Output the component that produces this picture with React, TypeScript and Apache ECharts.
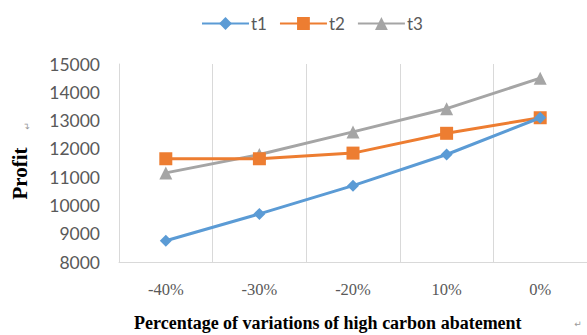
import React, { useEffect, useRef } from "react";
import * as echarts from "echarts";

const categories = ["-40%", "-30%", "-20%", "10%", "0%"];
const seriesNames = ["t1", "t2", "t3"];
const t1Values = [8750, 9700, 10700, 11800, 13100];
const t2Values = [11650, 11650, 11850, 12550, 13100];
const t3Values = [11150, 11800, 12600, 13420, 14500];
const yTicks = { min: 8000, max: 15000, step: 1000 };

const colors = ["#5B9BD5", "#ED7D31", "#A5A5A5"];
const symbols = ["diamond", "rect", "triangle"];
const symbolSizes = [12, 13, 13];

export default function App() {
  const ref = useRef<HTMLDivElement>(null);

  useEffect(() => {
    if (!ref.current) return;
    const chart = echarts.init(ref.current, undefined, { renderer: "svg" });
    const values = [t1Values, t2Values, t3Values];

    chart.setOption({
      animation: false,
      backgroundColor: "#ffffff",
      legend: {
        left: 196,
        top: 10,
        itemWidth: 47,
        itemHeight: 16,
        itemGap: 12,
        textStyle: { fontFamily: "Lato", fontSize: 17, color: "#595959", padding: [0, 0, 0, -3] },
        data: seriesNames,
      },
      grid: { left: 119, top: 64, width: 479, height: 198, containLabel: false },
      xAxis: {
        type: "category",
        data: categories,
        boundaryGap: true,
        axisLine: { show: true, lineStyle: { color: "#d9d9d9", width: 1 } },
        axisTick: { show: false },
        splitLine: { show: true, lineStyle: { color: "#d9d9d9", width: 1 } },
        axisLabel: {
          margin: 19,
          fontFamily: "Liberation Serif",
          fontSize: 16.5,
          color: "#595959",
        },
      },
      yAxis: {
        type: "value",
        min: yTicks.min,
        max: yTicks.max,
        interval: yTicks.step,
        axisLine: { show: true, lineStyle: { color: "#d9d9d9", width: 1 } },
        axisTick: { show: false },
        splitLine: { show: false },
        axisLabel: {
          margin: 19,
          fontFamily: "Lato",
          fontSize: 17.5,
          color: "#595959",
          formatter: (v: number) => String(v),
        },
      },
      series: seriesNames.map((name, i) => ({
        name,
        type: "line",
        data: values[i],
        symbol: symbols[i],
        symbolSize: symbolSizes[i],
        lineStyle: { color: colors[i], width: 3 },
        itemStyle: { color: colors[i] },
        z: 3 - i,
      })),
      graphic: [
        {
          type: "text",
          x: 134,
          y: 323,
          style: {
            text: "Percentage of variations of high carbon abatement",
            fontFamily: "Liberation Serif",
            fontWeight: "bold",
            fontSize: 18,
            fill: "#000000",
            align: "left",
            verticalAlign: "middle",
          },
        },
        {
          type: "text",
          x: 578,
          y: 324,
          style: {
            text: "↵",
            fontFamily: "DejaVu Sans",
            fontSize: 9,
            fill: "#9a9a9a",
            align: "center",
            verticalAlign: "middle",
          },
        },
        {
          type: "text",
          x: 20,
          y: 173.5,
          rotation: Math.PI / 2,
          style: {
            text: "Profit",
            fontFamily: "Liberation Serif",
            fontWeight: "bold",
            fontSize: 21,
            fill: "#000000",
            align: "center",
            verticalAlign: "middle",
          },
        },
        {
          type: "text",
          x: 27,
          y: 126,
          rotation: Math.PI / 2,
          style: {
            text: "↵",
            fontFamily: "DejaVu Sans",
            fontSize: 9,
            fill: "#9a9a9a",
            align: "center",
            verticalAlign: "middle",
          },
        },
      ],
    });

    return () => chart.dispose();
  }, []);

  return (
    <div
      ref={ref}
      style={{ position: "fixed", left: 0, top: 0, width: 587, height: 335, background: "#fff" }}
    />
  );
}
